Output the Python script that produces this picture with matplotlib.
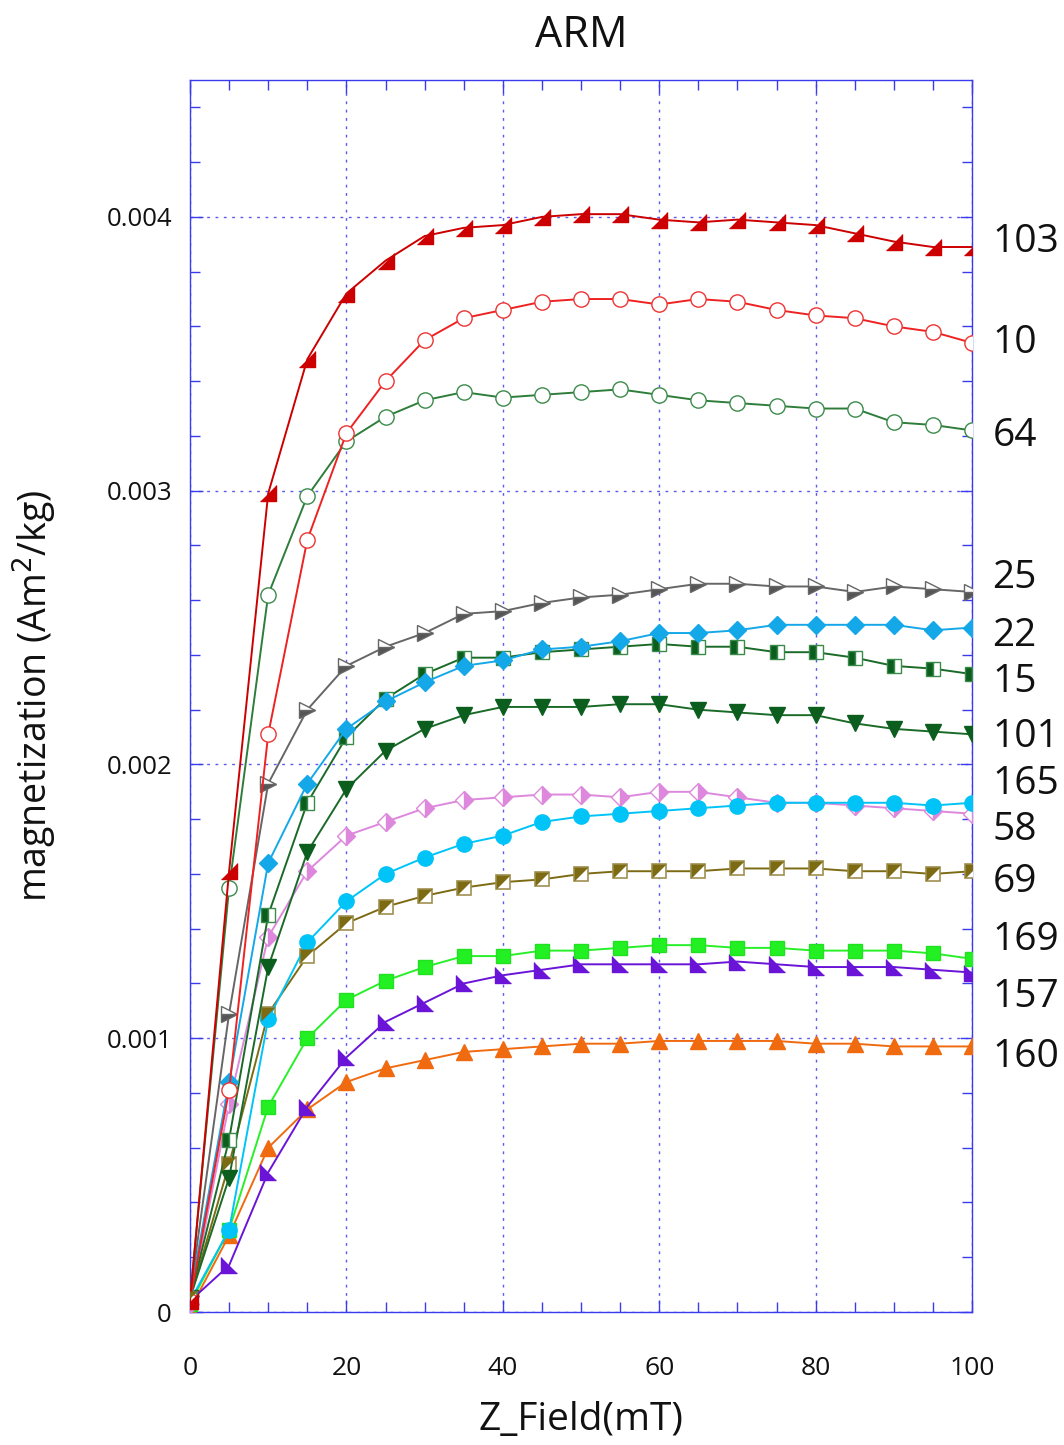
import matplotlib
matplotlib.use("Agg")
import matplotlib.pyplot as plt
import numpy as np
from matplotlib.ticker import MultipleLocator, FixedLocator

plt.rcParams['font.family'] = ['Open Sans', 'DejaVu Sans']

field = [0, 5, 10, 15, 20, 25, 30, 35, 40, 45, 50, 55, 60, 65, 70, 75, 80, 85, 90, 95, 100]

s103 = [0.00004, 0.00161, 0.00299, 0.00348, 0.00372, 0.00384, 0.00393, 0.00396, 0.00397, 0.00400, 0.00401,
        0.00401, 0.00399, 0.00398, 0.00399, 0.00398, 0.00397, 0.00394, 0.00391, 0.00389, 0.00389]
s10 = [0.00004, 0.00081, 0.00211, 0.00282, 0.00321, 0.00340, 0.00355, 0.00363, 0.00366, 0.00369, 0.00370,
       0.00370, 0.00368, 0.00370, 0.00369, 0.00366, 0.00364, 0.00363, 0.00360, 0.00358, 0.00354]
s64 = [0.00005, 0.00155, 0.00262, 0.00298, 0.00318, 0.00327, 0.00333, 0.00336, 0.00334, 0.00335, 0.00336,
       0.00337, 0.00335, 0.00333, 0.00332, 0.00331, 0.00330, 0.00330, 0.00325, 0.00324, 0.00322]
s25 = [0.00006, 0.00109, 0.00193, 0.00220, 0.00236, 0.00243, 0.00248, 0.00255, 0.00256, 0.00259, 0.00261,
       0.00262, 0.00264, 0.00266, 0.00266, 0.00265, 0.00265, 0.00263, 0.00265, 0.00264, 0.00263]
s22 = [0.00006, 0.00084, 0.00164, 0.00193, 0.00213, 0.00223, 0.00230, 0.00236, 0.00238, 0.00242, 0.00243,
       0.00245, 0.00248, 0.00248, 0.00249, 0.00251, 0.00251, 0.00251, 0.00251, 0.00249, 0.00250]
s15 = [0.00005, 0.00063, 0.00145, 0.00186, 0.00210, 0.00224, 0.00233, 0.00239, 0.00239, 0.00241, 0.00242,
       0.00243, 0.00244, 0.00243, 0.00243, 0.00241, 0.00241, 0.00239, 0.00236, 0.00235, 0.00233]
s101 = [0.00005, 0.00049, 0.00126, 0.00168, 0.00191, 0.00205, 0.00213, 0.00218, 0.00221, 0.00221, 0.00221,
        0.00222, 0.00222, 0.00220, 0.00219, 0.00218, 0.00218, 0.00215, 0.00213, 0.00212, 0.00211]
s165 = [0.00004, 0.00030, 0.00107, 0.00135, 0.00150, 0.00160, 0.00166, 0.00171, 0.00174, 0.00179, 0.00181,
        0.00182, 0.00183, 0.00184, 0.00185, 0.00186, 0.00186, 0.00186, 0.00186, 0.00185, 0.00186]
s58 = [0.00003, 0.00076, 0.00137, 0.00161, 0.00174, 0.00179, 0.00184, 0.00187, 0.00188, 0.00189, 0.00189,
       0.00188, 0.00190, 0.00190, 0.00188, 0.00186, 0.00186, 0.00185, 0.00184, 0.00183, 0.00182]
s69 = [0.00005, 0.00054, 0.00109, 0.00130, 0.00142, 0.00148, 0.00152, 0.00155, 0.00157, 0.00158, 0.00160,
       0.00161, 0.00161, 0.00161, 0.00162, 0.00162, 0.00162, 0.00161, 0.00161, 0.00160, 0.00161]
s169 = [0.00003, 0.00030, 0.00075, 0.00100, 0.00114, 0.00121, 0.00126, 0.00130, 0.00130, 0.00132, 0.00132,
        0.00133, 0.00134, 0.00134, 0.00133, 0.00133, 0.00132, 0.00132, 0.00132, 0.00131, 0.00129]
s157 = [0.00004, 0.00017, 0.00051, 0.00075, 0.00093, 0.00106, 0.00113, 0.00120, 0.00123, 0.00125, 0.00127,
        0.00127, 0.00127, 0.00127, 0.00128, 0.00127, 0.00126, 0.00126, 0.00126, 0.00125, 0.00124]
s160 = [0.00001, 0.00028, 0.00060, 0.00074, 0.00084, 0.00089, 0.00092, 0.00095, 0.00096, 0.00097, 0.00098,
        0.00098, 0.00099, 0.00099, 0.00099, 0.00099, 0.00098, 0.00098, 0.00097, 0.00097, 0.00097]

sample_names = ["103", "10", "64", "25", "22", "15", "101", "165", "58", "69", "169", "157", "160"]
label_y = [0.00391, 0.00354, 0.00320, 0.00268, 0.00247, 0.00230, 0.00210, 0.00193, 0.00176, 0.00157,
           0.00136, 0.00115, 0.00093]

xticks = [0, 20, 40, 60, 80, 100]
yticks = [0, 0.001, 0.002, 0.003, 0.004]
ytick_labels = ["0", "0.001", "0.002", "0.003", "0.004"]

fig = plt.figure(figsize=(10.64, 14.45), dpi=100)
ax = fig.add_axes([190/1064, 1-1312/1445, (972-190)/1064, (1312-80)/1445])

lw = 1.4
ms = 11

tri_br = [(-1, -1), (1, -1), (1, 1)]     # red 103
tri_bl = [(-1, 1), (-1, -1), (1, -1)]    # purple 157
tri_ul = [(-1, -1), (-1, 1), (1, 1)]     # olive half-square

ax.plot(field, s160, color='#f06a10', lw=lw, marker='^', ms=ms, mec='#f06a10', mfc='#f06a10', zorder=3)
ax.plot(field, s157, color='#6a14d8', lw=lw, marker=tri_bl, ms=ms, mec='#6a14d8', mfc='#6a14d8', zorder=3)
ax.plot(field, s169, color='#28f028', lw=lw, marker='s', ms=ms-1, mec='#22e022', mfc='#22f022', zorder=3)
ax.plot(field, s69, color='#7d6b14', lw=lw, marker='s', ms=ms-1, mec='#a09050', mfc='white', mew=1.2, zorder=3)
ax.plot(field, s69, ls='none', marker=tri_ul, ms=ms-1, mec='none', mfc='#7d6b14', zorder=3.1)
ax.plot(field, s58, color='#dd88dd', lw=lw, marker='D', ms=ms-2, mec='#dd88dd', mfc='#dd88dd',
        fillstyle='right', markerfacecoloralt='white', zorder=3)
ax.plot(field, s165, color='#00c4f8', lw=lw, marker='o', ms=ms, mec='#00c4f8', mfc='#00c4f8', zorder=3)
ax.plot(field, s101, color='#1a6a28', lw=lw, marker='v', ms=ms, mec='#0b5e1e', mfc='#0b5e1e', zorder=3)
ax.plot(field, s15, color='#1a6a28', lw=lw, marker='s', ms=ms-1, mec='#3a8a4a', mfc='#0b5e1e',
        fillstyle='left', markerfacecoloralt='white', zorder=3)
ax.plot(field, s22, color='#14a8e8', lw=lw, marker='D', ms=ms-2, mec='#14a8e8', mfc='#14a8e8', zorder=3)
ax.plot(field, s25, color='#666666', lw=lw, marker='>', ms=ms, mec='#666666', mfc='#555555',
        fillstyle='bottom', markerfacecoloralt='white', zorder=3)
ax.plot(field, s64, color='#2e7d3a', lw=lw, marker='o', ms=ms, mec='#3a8a4a', mfc='white', zorder=3)
ax.plot(field, s10, color='#ee2222', lw=lw, marker='o', ms=ms, mec='#ee3333', mfc='white', zorder=3)
ax.plot(field, s103, color='#cc0000', lw=lw, marker=tri_br, ms=ms, mec='#cc0000', mfc='#cc0000', zorder=3)

ax.set_xlim(0, 100)
ax.set_ylim(0, 0.0045)

blue = '#3a3aee'
for sp in ax.spines.values():
    sp.set_color(blue)
    sp.set_linewidth(1.0)

ax.xaxis.set_major_locator(FixedLocator(xticks))
ax.xaxis.set_minor_locator(MultipleLocator(5))
ax.yaxis.set_major_locator(FixedLocator(yticks))
ax.yaxis.set_minor_locator(MultipleLocator(0.0002))
ax.set_xticklabels([str(t) for t in xticks])
ax.set_yticklabels(ytick_labels)
ax.tick_params(which='both', direction='in', color=blue, top=True, right=True)
ax.tick_params(which='major', length=9, width=1.0)
ax.tick_params(which='minor', length=7, width=1.0)
ax.tick_params(axis='x', which='major', pad=32, labelsize=19, labelcolor='#111111')
ax.tick_params(axis='y', which='major', pad=13, labelsize=18.5, labelcolor='#111111')

ax.grid(which='major', color='#5a5aee', linestyle=(0, (2, 4)), linewidth=1.0)
ax.set_axisbelow(True)

ax.set_title("ARM", fontsize=31, pad=24, color='#111111')
ax.set_xlabel("Z_Field(mT)", fontsize=28, labelpad=14, color='#111111')
ax.set_ylabel("magnetization (Am$^2$/kg)", fontsize=27, labelpad=34, color='#111111')

for name, yv in zip(sample_names, label_y):
    ax.text(102.6, yv, name, fontsize=28, va='center', ha='left', color='#111111', clip_on=False)

fig.savefig("out.png", dpi=100)
